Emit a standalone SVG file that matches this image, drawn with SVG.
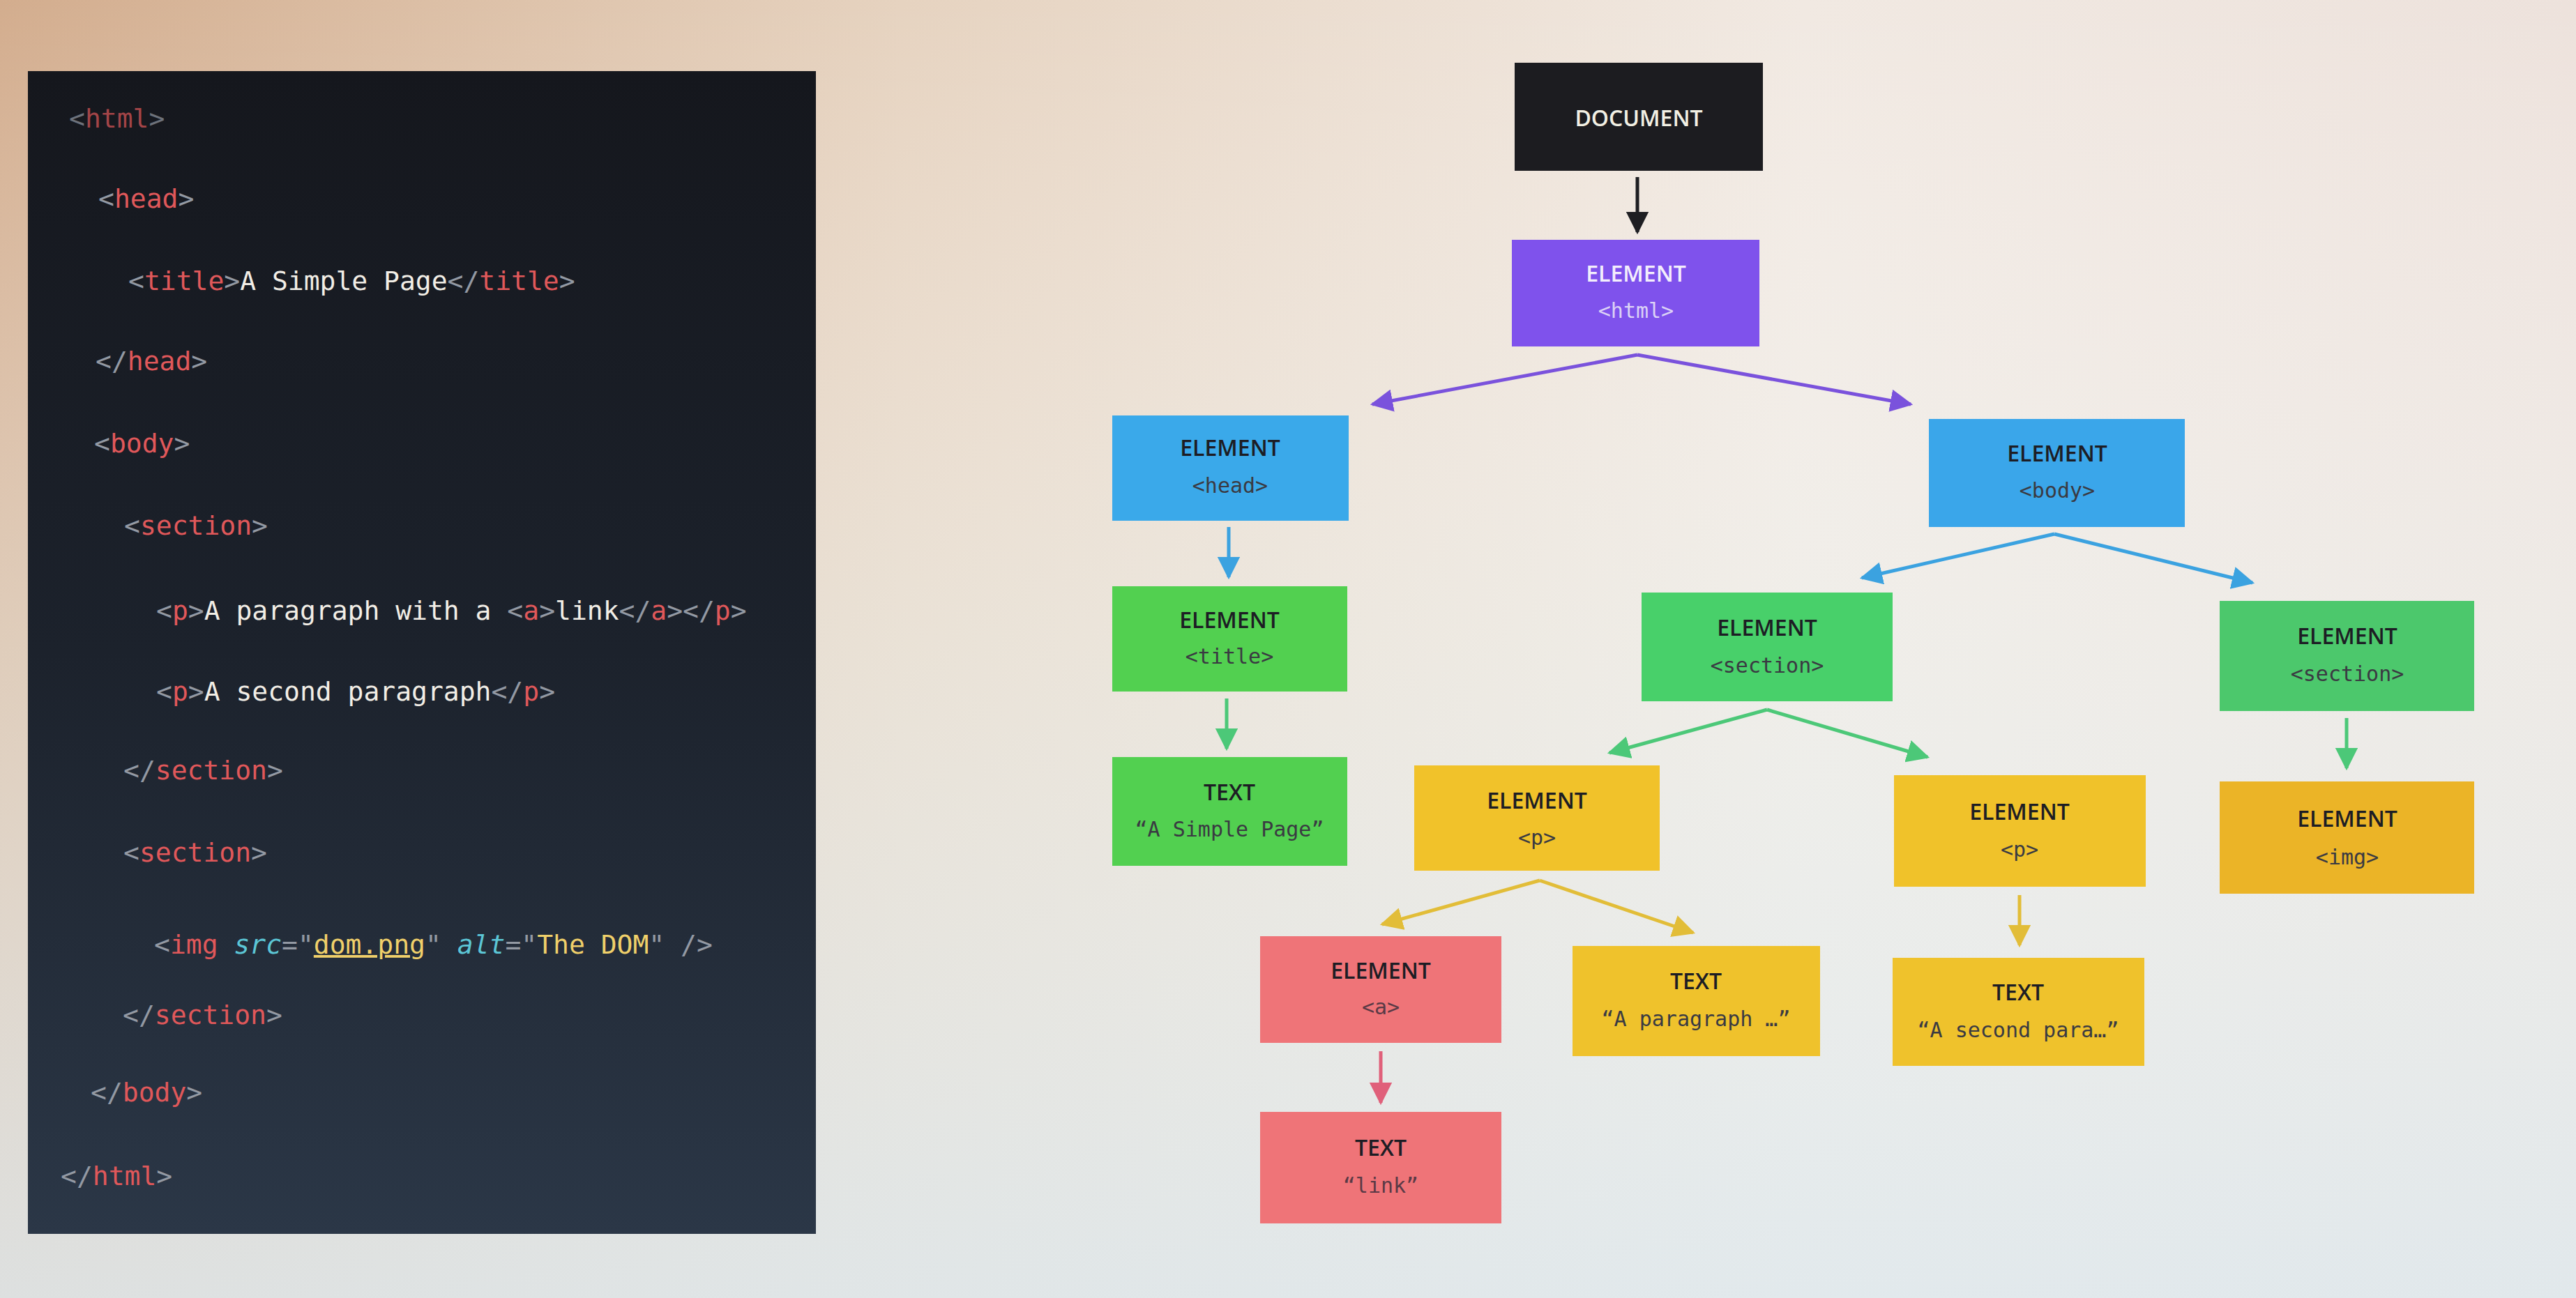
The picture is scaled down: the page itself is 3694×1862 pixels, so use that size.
<svg xmlns="http://www.w3.org/2000/svg" width="3694" height="1862" viewBox="0 0 3694 1862">
<defs>
<linearGradient id="bgH" x1="0" y1="0" x2="1" y2="0">
<stop offset="0" stop-color="#d3ad8e"/>
<stop offset="0.35" stop-color="#e6d3c0"/>
<stop offset="0.7" stop-color="#f1e9e2"/>
<stop offset="1" stop-color="#ede2dc"/>
</linearGradient>
<linearGradient id="bgV" x1="0" y1="0" x2="0" y2="1">
<stop offset="0" stop-color="#ffffff" stop-opacity="0"/>
<stop offset="0.5" stop-color="#eef4f2" stop-opacity="0.45"/>
<stop offset="1" stop-color="#dfe9ee" stop-opacity="0.85"/>
</linearGradient>
<linearGradient id="panel" x1="0" y1="0" x2="0" y2="1">
<stop offset="0" stop-color="#15171d"/>
<stop offset="0.5" stop-color="#1c222c"/>
<stop offset="1" stop-color="#2b3747"/>
</linearGradient>
<marker id="mBlack" viewBox="0 0 10 10" refX="9" refY="5" markerWidth="6.5" markerHeight="6.5" orient="auto" markerUnits="strokeWidth"><path d="M0,0 L10,5 L0,10 z" fill="#1e1e22"/></marker>
<marker id="mPurple" viewBox="0 0 10 10" refX="9" refY="5" markerWidth="6.5" markerHeight="6.5" orient="auto" markerUnits="strokeWidth"><path d="M0,0 L10,5 L0,10 z" fill="#7a52dc"/></marker>
<marker id="mBlue" viewBox="0 0 10 10" refX="9" refY="5" markerWidth="6.5" markerHeight="6.5" orient="auto" markerUnits="strokeWidth"><path d="M0,0 L10,5 L0,10 z" fill="#3ba2e0"/></marker>
<marker id="mGreen" viewBox="0 0 10 10" refX="9" refY="5" markerWidth="6.5" markerHeight="6.5" orient="auto" markerUnits="strokeWidth"><path d="M0,0 L10,5 L0,10 z" fill="#4cc878"/></marker>
<marker id="mYellow" viewBox="0 0 10 10" refX="9" refY="5" markerWidth="6.5" markerHeight="6.5" orient="auto" markerUnits="strokeWidth"><path d="M0,0 L10,5 L0,10 z" fill="#e2bd38"/></marker>
<marker id="mRed" viewBox="0 0 10 10" refX="9" refY="5" markerWidth="6.5" markerHeight="6.5" orient="auto" markerUnits="strokeWidth"><path d="M0,0 L10,5 L0,10 z" fill="#e0607a"/></marker>
</defs>
<style>
.code{font-family:"DejaVu Sans Mono","Liberation Mono",monospace;font-size:38px;}
.br{fill:#9399a3}
.tg{fill:#e0585a}
.tx{fill:#f2eee6}
.at{fill:#5cc6d6;font-style:italic}
.vl{fill:#f0d06a}
.h{font-family:"Open Sans","Liberation Sans",sans-serif;font-size:32px;font-weight:600;text-anchor:middle;fill:#1d1d24}
.m{font-family:"DejaVu Sans Mono","Liberation Mono",monospace;font-size:30px;text-anchor:middle;fill:#3a3a42}
.ln{fill:none;stroke-width:5}
</style>
<rect x="0" y="0" width="3694" height="1862" fill="url(#bgH)"/>
<rect x="0" y="0" width="3694" height="1862" fill="url(#bgV)"/>

<g id="code-panel">
<rect x="40" y="102" width="1130" height="1668" fill="url(#panel)"/>
<text class="code" x="99" y="183" opacity="0.7"><tspan class="br">&lt;</tspan><tspan class="tg">html</tspan><tspan class="br">&gt;</tspan></text>
<text class="code" x="141" y="298"><tspan class="br">&lt;</tspan><tspan class="tg">head</tspan><tspan class="br">&gt;</tspan></text>
<text class="code" x="184" y="416"><tspan class="br">&lt;</tspan><tspan class="tg">title</tspan><tspan class="br">&gt;</tspan><tspan class="tx">A Simple Page</tspan><tspan class="br">&lt;/</tspan><tspan class="tg">title</tspan><tspan class="br">&gt;</tspan></text>
<text class="code" x="137" y="531"><tspan class="br">&lt;/</tspan><tspan class="tg">head</tspan><tspan class="br">&gt;</tspan></text>
<text class="code" x="135" y="649"><tspan class="br">&lt;</tspan><tspan class="tg">body</tspan><tspan class="br">&gt;</tspan></text>
<text class="code" x="178" y="767"><tspan class="br">&lt;</tspan><tspan class="tg">section</tspan><tspan class="br">&gt;</tspan></text>
<text class="code" x="224" y="889"><tspan class="br">&lt;</tspan><tspan class="tg">p</tspan><tspan class="br">&gt;</tspan><tspan class="tx">A paragraph with a </tspan><tspan class="br">&lt;</tspan><tspan class="tg">a</tspan><tspan class="br">&gt;</tspan><tspan class="tx">link</tspan><tspan class="br">&lt;/</tspan><tspan class="tg">a</tspan><tspan class="br">&gt;&lt;/</tspan><tspan class="tg">p</tspan><tspan class="br">&gt;</tspan></text>
<text class="code" x="224" y="1005"><tspan class="br">&lt;</tspan><tspan class="tg">p</tspan><tspan class="br">&gt;</tspan><tspan class="tx">A second paragraph</tspan><tspan class="br">&lt;/</tspan><tspan class="tg">p</tspan><tspan class="br">&gt;</tspan></text>
<text class="code" x="177" y="1118"><tspan class="br">&lt;/</tspan><tspan class="tg">section</tspan><tspan class="br">&gt;</tspan></text>
<text class="code" x="177" y="1236"><tspan class="br">&lt;</tspan><tspan class="tg">section</tspan><tspan class="br">&gt;</tspan></text>
<text class="code" x="221" y="1368"><tspan class="br">&lt;</tspan><tspan class="tg">img</tspan><tspan class="tx"> </tspan><tspan class="at">src</tspan><tspan class="br">="</tspan><tspan class="vl" text-decoration="underline">dom.png</tspan><tspan class="br">"</tspan><tspan class="tx"> </tspan><tspan class="at">alt</tspan><tspan class="br">="</tspan><tspan class="vl">The DOM</tspan><tspan class="br">" /&gt;</tspan></text>
<text class="code" x="176" y="1469"><tspan class="br">&lt;/</tspan><tspan class="tg">section</tspan><tspan class="br">&gt;</tspan></text>
<text class="code" x="130" y="1580"><tspan class="br">&lt;/</tspan><tspan class="tg">body</tspan><tspan class="br">&gt;</tspan></text>
<text class="code" x="87" y="1700"><tspan class="br">&lt;/</tspan><tspan class="tg">html</tspan><tspan class="br">&gt;</tspan></text>
</g>

<g id="connectors">
<line class="ln" x1="2348" y1="254" x2="2348" y2="333" stroke="#1e1e22" marker-end="url(#mBlack)"/>
<polyline class="ln" points="2348,509 1968,580" stroke="#7a52dc" marker-end="url(#mPurple)"/>
<polyline class="ln" points="2348,509 2740,580" stroke="#7a52dc" marker-end="url(#mPurple)"/>
<line class="ln" x1="1762" y1="756" x2="1762" y2="828" stroke="#3ba2e0" marker-end="url(#mBlue)"/>
<line class="ln" x1="1759" y1="1002" x2="1759" y2="1074" stroke="#4cc878" marker-end="url(#mGreen)"/>
<line class="ln" x1="2946" y1="766" x2="2670" y2="829" stroke="#3ba2e0" marker-end="url(#mBlue)"/>
<line class="ln" x1="2946" y1="766" x2="3230" y2="836" stroke="#3ba2e0" marker-end="url(#mBlue)"/>
<line class="ln" x1="2534" y1="1018" x2="2308" y2="1080" stroke="#4cc878" marker-end="url(#mGreen)"/>
<line class="ln" x1="2534" y1="1018" x2="2764" y2="1086" stroke="#4cc878" marker-end="url(#mGreen)"/>
<line class="ln" x1="3365" y1="1030" x2="3365" y2="1102" stroke="#4cc878" marker-end="url(#mGreen)"/>
<line class="ln" x1="2208" y1="1263" x2="1982" y2="1326" stroke="#e2bd38" marker-end="url(#mYellow)"/>
<line class="ln" x1="2208" y1="1263" x2="2428" y2="1338" stroke="#e2bd38" marker-end="url(#mYellow)"/>
<line class="ln" x1="2896" y1="1284" x2="2896" y2="1356" stroke="#e2bd38" marker-end="url(#mYellow)"/>
<line class="ln" x1="1980" y1="1508" x2="1980" y2="1582" stroke="#e0607a" marker-end="url(#mRed)"/>
</g>

<g id="n-document">
<rect x="2172" y="90" width="356" height="155" fill="#1c1c20"/>
<text class="h" x="2350" y="181" style="fill:#f2f0e4">DOCUMENT</text>
</g>
<g id="n-html">
<rect x="2168" y="344" width="355" height="153" fill="#7f52ec"/>
<text class="h" x="2346" y="404" style="fill:#f3eefc">ELEMENT</text>
<text class="m" x="2346" y="456" style="fill:#dcd2f6">&lt;html&gt;</text>
</g>
<g id="n-head">
<rect x="1595" y="596" width="339" height="151" fill="#3aa9ea"/>
<text class="h" x="1764" y="654">ELEMENT</text>
<text class="m" x="1764" y="707">&lt;head&gt;</text>
</g>
<g id="n-body">
<rect x="2766" y="601" width="367" height="155" fill="#3aa6ea"/>
<text class="h" x="2950" y="662">ELEMENT</text>
<text class="m" x="2950" y="714">&lt;body&gt;</text>
</g>
<g id="n-title">
<rect x="1595" y="841" width="337" height="151" fill="#52d050"/>
<text class="h" x="1763" y="901">ELEMENT</text>
<text class="m" x="1763" y="952">&lt;title&gt;</text>
</g>
<g id="n-text-title">
<rect x="1595" y="1086" width="337" height="156" fill="#52d050"/>
<text class="h" x="1763" y="1148">TEXT</text>
<text class="m" x="1763" y="1200">“A Simple Page”</text>
</g>
<g id="n-section1">
<rect x="2354" y="850" width="360" height="156" fill="#48d06a"/>
<text class="h" x="2534" y="912">ELEMENT</text>
<text class="m" x="2534" y="965">&lt;section&gt;</text>
</g>
<g id="n-section2">
<rect x="3183" y="862" width="365" height="158" fill="#4cc86c"/>
<text class="h" x="3366" y="924">ELEMENT</text>
<text class="m" x="3366" y="977">&lt;section&gt;</text>
</g>
<g id="n-p1">
<rect x="2028" y="1098" width="352" height="151" fill="#f1c22a"/>
<text class="h" x="2204" y="1160">ELEMENT</text>
<text class="m" x="2204" y="1212">&lt;p&gt;</text>
</g>
<g id="n-p2">
<rect x="2716" y="1112" width="361" height="160" fill="#f0c22a"/>
<text class="h" x="2896" y="1176">ELEMENT</text>
<text class="m" x="2896" y="1229">&lt;p&gt;</text>
</g>
<g id="n-img">
<rect x="3183" y="1121" width="365" height="161" fill="#ebb427"/>
<text class="h" x="3366" y="1186">ELEMENT</text>
<text class="m" x="3366" y="1240">&lt;img&gt;</text>
</g>
<g id="n-a">
<rect x="1807" y="1343" width="346" height="153" fill="#ef7478"/>
<text class="h" x="1980" y="1404">ELEMENT</text>
<text class="m" x="1980" y="1455" style="fill:#5a3a46">&lt;a&gt;</text>
</g>
<g id="n-text-p1">
<rect x="2255" y="1357" width="355" height="158" fill="#efc22c"/>
<text class="h" x="2432" y="1419">TEXT</text>
<text class="m" x="2432" y="1472">“A paragraph …”</text>
</g>
<g id="n-text-p2">
<rect x="2714" y="1374" width="361" height="155" fill="#efc22c"/>
<text class="h" x="2894" y="1435">TEXT</text>
<text class="m" x="2894" y="1488">“A second para…”</text>
</g>
<g id="n-text-link">
<rect x="1807" y="1595" width="346" height="160" fill="#ef7478"/>
<text class="h" x="1980" y="1658">TEXT</text>
<text class="m" x="1980" y="1711" style="fill:#5a3a46">“link”</text>
</g>
</svg>
